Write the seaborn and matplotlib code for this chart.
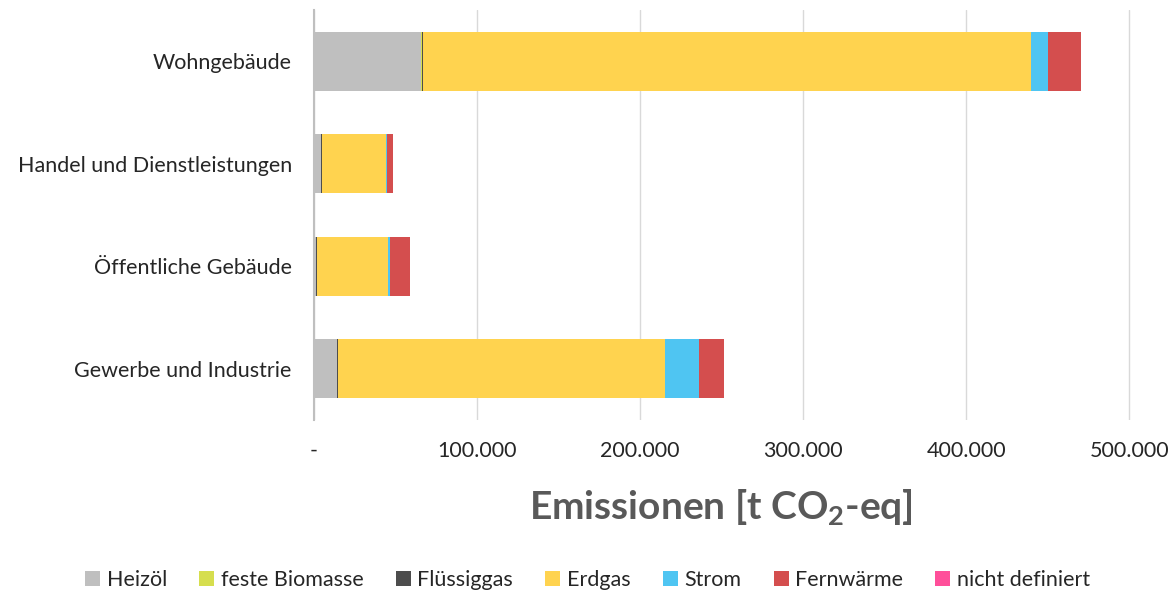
import matplotlib.pyplot as plt
import matplotlib.ticker as mticker
from matplotlib.patches import Patch
import numpy as np
import pandas as pd
import seaborn as sns

# Data (t CO2-eq)
sectors = ['Wohngebäude', 'Handel und Dienstleistungen', 'Öffentliche Gebäude', 'Gewerbe und Industrie']
carriers = ['Heizöl', 'feste Biomasse', 'Flüssiggas', 'Erdgas', 'Strom', 'Fernwärme', 'nicht definiert']
heizoel = [65700, 4300, 1200, 14100]
biomasse = [600, 200, 200, 200]
fluessiggas = [700, 200, 200, 500]
erdgas = [372800, 39500, 43900, 200200]
strom = [10400, 500, 1000, 20900]
fernwaerme = [20300, 3800, 12300, 15300]
nicht_definiert = [0, 0, 0, 0]
colors = ['#BFBFBF', '#D6DE4E', '#4D4D4D', '#FFD34F', '#4FC5F2', '#D44E4E', '#FF4F9A']

sns.set_theme(style='white')
plt.rcParams['font.family'] = ['Lato', 'DejaVu Sans']
plt.rcParams['mathtext.fontset'] = 'custom'
plt.rcParams['mathtext.bf'] = 'Lato:bold'
plt.rcParams['mathtext.rm'] = 'Lato'

df = pd.DataFrame(
    np.array([heizoel, biomasse, fluessiggas, erdgas, strom, fernwaerme, nicht_definiert]).T,
    columns=carriers)
df.insert(0, 'sector', sectors)
cum = df[carriers].cumsum(axis=1)
cum['sector'] = sectors

fig = plt.figure(figsize=(11.75, 5.91), dpi=100)
ax = fig.add_axes([314 / 1175, 171 / 591, 856 / 1175, 410 / 591])

# draw cumulative totals from the outermost segment inwards so each layer shows
for name, col in reversed(list(zip(carriers, colors))):
    sns.barplot(data=cum, x=name, y='sector', order=sectors, color=col,
                width=0.575, saturation=1, linewidth=0, ax=ax)

ax.set_xlim(0, 525000)
ax.set_ylim(3.5, -0.5)
ax.set_xticks([0, 100000, 200000, 300000, 400000, 500000])
ax.xaxis.set_major_formatter(mticker.FuncFormatter(
    lambda v, p: '-' if v == 0 else f'{int(v):,}'.replace(',', '.')))
ax.grid(axis='x', color='#D9D9D9', linewidth=1)
ax.set_axisbelow(True)
for s in ['top', 'right', 'bottom']:
    ax.spines[s].set_visible(False)
ax.spines['left'].set_color('#BFBFBF')
ax.spines['left'].set_linewidth(1.5)
ax.tick_params(axis='both', length=0, labelsize=15.5, labelcolor='#262626')
ax.tick_params(axis='x', pad=15)
ax.tick_params(axis='y', pad=16)
ax.set_ylabel('')
ax.set_xlabel(r'Emissionen [t CO$_\mathbf{2}$-eq]', fontsize=28, fontweight='bold',
              color='#595959')
ax.xaxis.set_label_coords((721 - 314) / 856, -0.165)

handles = [Patch(facecolor=c, edgecolor='none') for c in colors]
fig.legend(handles, carriers, loc='center', bbox_to_anchor=(0.5, 1 - 580 / 591),
           ncol=7, frameon=False, fontsize=15.5, handlelength=0.7, handleheight=0.7,
           handletextpad=0.3, columnspacing=1.5)

fig.savefig('out.png', dpi=100)
